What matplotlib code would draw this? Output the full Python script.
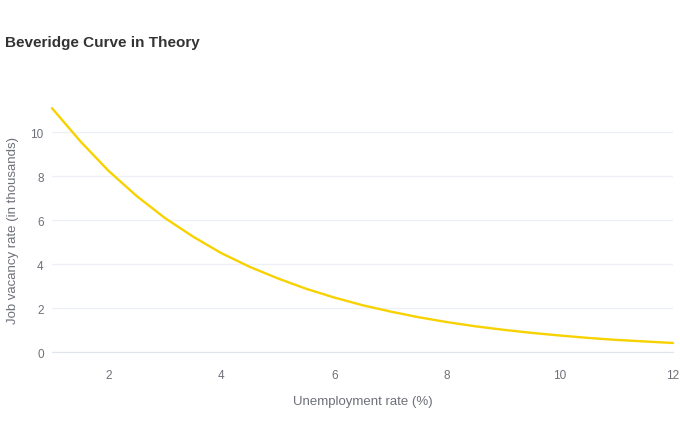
import numpy as np
import matplotlib
matplotlib.use('Agg')
import matplotlib.pyplot as plt

plt.rcParams['font.family'] = ['Liberation Sans', 'DejaVu Sans']

# Data
unemployment = [1, 1.5, 2, 2.5, 3, 3.5, 4, 4.5, 5, 5.5, 6, 6.5,
                7, 7.5, 8, 8.5, 9, 9.5, 10, 10.5, 11, 11.5, 12]
vacancy = [11.1, 9.6, 8.25, 7.1, 6.1, 5.25, 4.5, 3.88, 3.35, 2.88, 2.48, 2.13,
           1.84, 1.58, 1.36, 1.17, 1.01, 0.87, 0.75, 0.64, 0.55, 0.48, 0.41]
x_ticks = [2, 4, 6, 8, 10, 12]
y_ticks = [0, 2, 4, 6, 8, 10]

fig = plt.figure(figsize=(6.8, 4.35), dpi=100)
ax = fig.add_axes([52/680, 1 - 353/435, (673 - 52)/680, (353 - 107)/435])

ax.plot(unemployment, vacancy, color='#F7D200', lw=1.7, clip_on=False,
        solid_capstyle='round')

ax.set_xlim(1, 12)
ax.set_ylim(0, 11.2)
ax.set_xticks(x_ticks)
ax.set_yticks(y_ticks)
ax.grid(axis='y', color='#eef0f5', lw=1)
ax.set_axisbelow(True)
for s in ['top', 'right', 'left']:
    ax.spines[s].set_visible(False)
ax.spines['bottom'].set_color('#dfe3ec')
ax.tick_params(axis='both', length=0, labelsize=8.5, colors='#6e7079')
ax.tick_params(axis='x', pad=12)
ax.tick_params(axis='y', pad=6)

ax.set_xlabel('Unemployment rate (%)', fontsize=9.5, color='#6e7079', labelpad=10)
ax.set_ylabel('Job vacancy rate (in thousands)', fontsize=9.5, color='#6e7079', labelpad=8)

fig.text(5/680, 1 - 43/435, 'Beveridge Curve in Theory', fontsize=11,
         fontweight='bold', color='#333333', va='center', ha='left')

fig.savefig('out.png', dpi=100)
